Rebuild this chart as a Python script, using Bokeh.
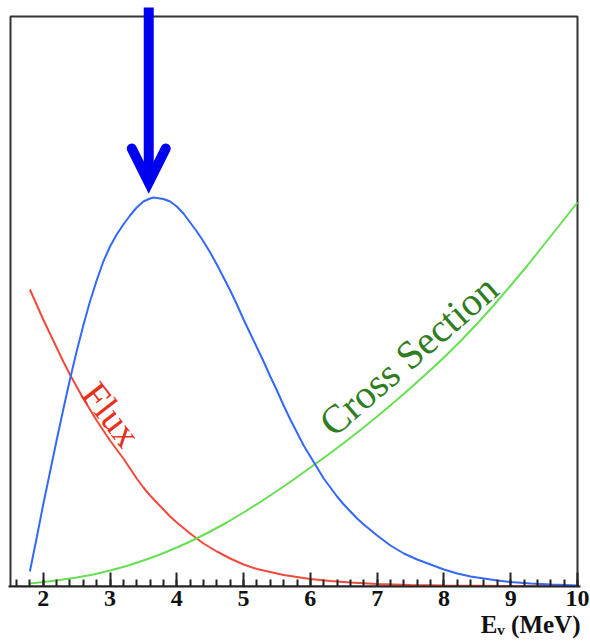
from bokeh.plotting import figure
from bokeh.models import FixedTicker, Label, Arrow, OpenHead, Range1d, Title
from bokeh.embed import file_html
from bokeh.resources import INLINE

# Neutrino energy spectrum pieces (arbitrary vertical units)
flux_energy = [1.8, 1.9, 2.0, 2.1, 2.2, 2.3, 2.4, 2.5, 2.6, 2.7, 2.8, 2.9, 3.0,
               3.1, 3.2, 3.3, 3.4, 3.5, 3.6, 3.7, 3.8, 3.9, 4.0, 4.2, 4.4, 4.6,
               4.8, 5.0, 5.2, 5.4, 5.6, 5.8, 6.0, 6.3, 6.6, 7.0, 7.5, 8.0, 9.0, 10.0]
flux = [297, 282, 267, 253, 239, 225, 212, 200, 188, 177, 166, 156, 146,
        137, 128, 118, 108, 99, 91, 84, 77, 70, 64, 53, 43, 35,
        28, 22, 17.5, 14.5, 11.5, 9.5, 7.5, 5.5, 4, 2.5, 1.5, 1, 0.5, 0.3]

xsec_energy = [1.8, 2.0, 2.25, 2.5, 2.75, 3.0, 3.25, 3.5, 3.75, 4.0, 4.25, 4.5,
               4.75, 5.0, 5.25, 5.5, 5.75, 6.0, 6.25, 6.5, 6.75, 7.0, 7.25, 7.5,
               7.75, 8.0, 8.25, 8.5, 8.75, 9.0, 9.25, 9.5, 9.75, 10.0]
xsec = [3, 4.5, 6.5, 9, 12, 16, 20.5, 26, 32, 39, 46.5, 55,
        64, 74, 84.5, 95.5, 107, 119, 131, 143.5, 156.5, 170, 184, 198.5,
        213.5, 229, 245.5, 263, 281.5, 301, 321, 342, 363, 384]

rate_energy = [1.8, 1.9, 2.0, 2.1, 2.2, 2.3, 2.4, 2.5, 2.6, 2.7, 2.8, 2.9, 3.0,
               3.1, 3.2, 3.3, 3.4, 3.5, 3.6, 3.65, 3.7, 3.8, 3.9, 4.0, 4.1, 4.2,
               4.3, 4.4, 4.5, 4.6, 4.7, 4.8, 4.9, 5.0, 5.1, 5.2, 5.3, 5.4, 5.5,
               5.6, 5.7, 5.8, 5.9, 6.0, 6.1, 6.2, 6.3, 6.4, 6.5, 6.6, 6.7, 6.8,
               7.0, 7.2, 7.4, 7.6, 7.8, 8.0, 8.2, 8.4, 8.6, 8.8, 9.0, 9.3, 9.6, 10.0]
rate = [15, 48, 82, 114, 146, 177, 207, 235, 261, 285, 306, 325, 340,
        352, 362, 371, 379, 385, 388, 389, 388.5, 387.5, 385, 380, 373, 364,
        355, 345, 334, 322, 309, 296, 282, 267, 253, 239, 225, 210, 196,
        181, 167, 154, 141, 130, 119, 108, 99, 90, 82, 75, 68, 62,
        51, 41, 33, 27, 22, 17, 13, 10, 8, 6, 4.5, 3, 2, 1]

major_ticks = [2, 3, 4, 5, 6, 7, 8, 9, 10]
minor_ticks = [round(1.6 + 0.2 * i, 1) for i in range(43)]

ARROW_E = 3.58      # horizontal position of the marker arrow (MeV)

p = figure(width=590, height=642, output_backend="svg", toolbar_location=None,
           x_range=Range1d(1.48, 10.045), y_range=Range1d(0, 586),
           y_axis_location=None, min_border_left=8, min_border_right=10,
           min_border_top=0, min_border_bottom=56,
           background_fill_color="white", border_fill_color="white")
p.outline_line_color = None
p.grid.visible = False

# frame box (left, top, right)
p.quad(left=1.51, right=10.0, bottom=0, top=570, fill_color=None,
       line_color="#333333", line_width=2)

p.line(flux_energy, flux, line_color="#f04a3c", line_width=2)
p.line(xsec_energy, xsec, line_color="#66e052", line_width=2)
p.line(rate_energy, rate, line_color="#3369f5", line_width=2)

# arrow pointing down at the spectrum maximum
peak_y = max(rate)
p.add_layout(Arrow(end=OpenHead(size=34, line_width=10, line_color="#0000f0",
                                line_cap="round", line_join="miter"),
                   x_start=ARROW_E, y_start=579, x_end=ARROW_E, y_end=peak_y + 15,
                   line_width=10, line_color="#0000f0"))

p.add_layout(Label(x=3.02, y=172, text="Flux", angle=-0.91, text_align="center",
                   text_baseline="middle", text_font="Liberation Serif",
                   text_font_size="38px", text_color="#e8301f"))
p.add_layout(Label(x=7.47, y=231, text="Cross Section", angle=0.716,
                   text_align="center", text_baseline="middle",
                   text_font="Liberation Serif", text_font_size="40px",
                   text_color="#2f7d22"))

ax = p.xaxis[0]
ax.ticker = FixedTicker(ticks=major_ticks, minor_ticks=minor_ticks)
ax.axis_line_width = 2
ax.axis_line_color = "#222222"
ax.major_tick_in = 14
ax.major_tick_out = 0
ax.minor_tick_in = 7
ax.minor_tick_out = 0
ax.major_tick_line_width = 2
ax.minor_tick_line_width = 2
ax.major_tick_line_color = "#222222"
ax.minor_tick_line_color = "#222222"
ax.major_label_standoff = 4
ax.major_label_text_font = "Liberation Serif"
ax.major_label_text_font_style = "bold"
ax.major_label_text_font_size = "24px"
ax.major_label_text_color = "#111111"

# axis title, right aligned under the tick labels
p.add_layout(Title(text="Eᵥ (MeV)", align="right", standoff=0, offset=0,
                   text_font="Liberation Serif", text_font_style="bold",
                   text_font_size="25px", text_color="#111111",
                   text_line_height=0.85), "below")

open("out.html", "w").write(file_html(p, INLINE))
